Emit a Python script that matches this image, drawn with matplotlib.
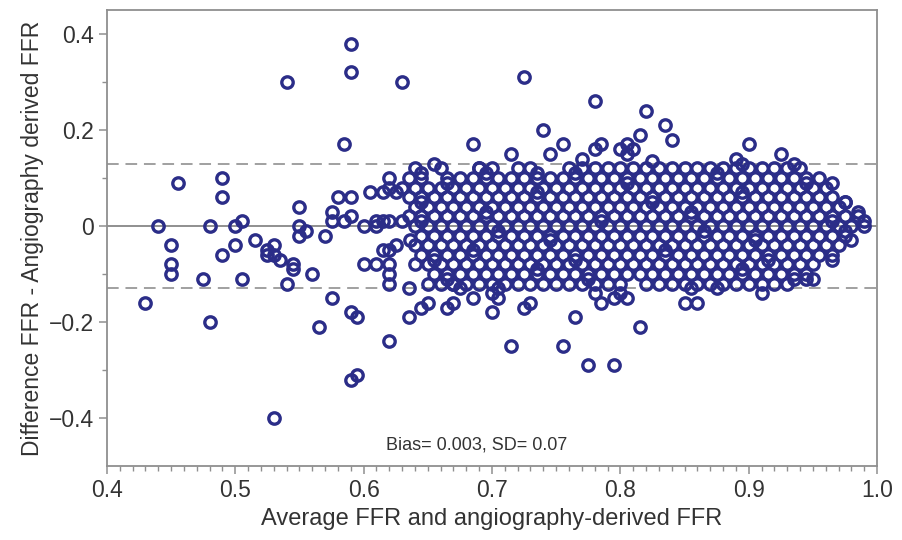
import matplotlib
matplotlib.use('Agg')
import matplotlib.pyplot as plt
from matplotlib.ticker import MultipleLocator, FixedLocator, FixedFormatter

plt.rcParams['font.family'] = ['Liberation Sans', 'DejaVu Sans']

# scattered points outside the dense band (average FFR, difference)
sparse_avg = [0.43, 0.44, 0.45, 0.45, 0.45, 0.455, 0.475, 0.48, 0.48, 0.49, 0.49, 0.49,
              0.50, 0.50, 0.505, 0.505, 0.515, 0.525, 0.525, 0.53, 0.53, 0.535, 0.53,
              0.54, 0.54, 0.545, 0.545, 0.55, 0.55, 0.55, 0.555,
              0.56, 0.565, 0.57, 0.575, 0.575, 0.575, 0.58, 0.585, 0.585, 0.59, 0.59,
              0.59, 0.59, 0.59, 0.595, 0.59, 0.595, 0.60, 0.60, 0.605, 0.61, 0.61,
              0.61, 0.615, 0.615, 0.615, 0.62, 0.62, 0.62, 0.62, 0.62, 0.62, 0.62,
              0.62, 0.625, 0.63, 0.63]
sparse_diff = [-0.16, 0.0, -0.04, -0.08, -0.10, 0.09, -0.11, 0.0, -0.20, 0.10, 0.06, -0.06,
               0.0, -0.04, 0.01, -0.11, -0.03, -0.05, -0.06, -0.04, -0.06, -0.07, -0.40,
               0.30, -0.12, -0.08, -0.09, 0.04, 0.0, -0.02, -0.01,
               -0.10, -0.21, -0.02, 0.03, 0.01, -0.15, 0.06, 0.01, 0.17, 0.38, 0.32,
               0.06, 0.02, -0.18, -0.19, -0.32, -0.31, 0.0, -0.08, 0.07, 0.01, 0.0,
               -0.08, 0.07, 0.01, -0.05, 0.10, 0.08, 0.01, -0.05, -0.08, -0.10, -0.12,
               -0.24, -0.04, 0.30, 0.01]

upper_avg = [0.64, 0.655, 0.685, 0.69, 0.695, 0.715, 0.725, 0.735, 0.74, 0.745, 0.755,
             0.77, 0.78, 0.78, 0.785, 0.80, 0.805, 0.805, 0.81, 0.815, 0.82, 0.825,
             0.835, 0.84, 0.84, 0.89, 0.895, 0.90, 0.925, 0.935, 0.94]
upper_diff = [0.12, 0.13, 0.17, 0.12, 0.11, 0.15, 0.31, 0.11, 0.20, 0.15, 0.17,
              0.14, 0.26, 0.16, 0.17, 0.16, 0.17, 0.15, 0.16, 0.19, 0.24, 0.135,
              0.21, 0.18, 0.12, 0.14, 0.13, 0.17, 0.15, 0.13, 0.12]

lower_avg = [0.635, 0.635, 0.645, 0.65, 0.65, 0.665, 0.67, 0.67, 0.675, 0.685, 0.70,
             0.70, 0.705, 0.705, 0.715, 0.725, 0.73, 0.74, 0.755, 0.765, 0.775, 0.78,
             0.785, 0.795, 0.795, 0.80, 0.805, 0.815, 0.84, 0.85, 0.855, 0.86, 0.875,
             0.91, 0.945]
lower_diff = [-0.13, -0.19, -0.17, -0.16, -0.12, -0.17, -0.16, -0.12, -0.13, -0.15, -0.14,
              -0.18, -0.15, -0.13, -0.25, -0.17, -0.16, -0.12, -0.25, -0.19, -0.29, -0.14,
              -0.16, -0.15, -0.29, -0.14, -0.15, -0.21, -0.12, -0.16, -0.13, -0.16, -0.13,
              -0.14, -0.11]

edge_avg = [0.955, 0.965, 0.975, 0.985, 0.99, 0.99, 0.98, 0.965, 0.95]
edge_diff = [0.10, 0.09, 0.05, 0.03, 0.01, 0.0, -0.03, -0.07, -0.11]

# dense band, one list of average FFR (x1000) per difference level
band_p12 = [660, 690, 700, 720, 730, 760, 770, 780, 790, 800, 810, 820, 830, 850, 860,
            870, 880, 890, 900, 910, 920, 930]
band_p11 = [645, 765, 875]
band_p10 = [635, 645, 665, 675, 685, 695, 705, 715, 725, 735, 745, 755, 765, 775, 785,
            795, 805, 815, 825, 835, 845, 855, 865, 875, 885, 895, 905, 915, 925, 935,
            945]
band_p09 = [665, 805, 945]
band_p08 = [630, 640, 650, 660, 670, 680, 690, 700, 710, 720, 730, 740, 750, 760, 770,
            780, 790, 800, 810, 820, 830, 840, 850, 860, 870, 880, 890, 900, 910, 920,
            930, 940, 950, 960]
band_p07 = [625, 735, 895]
band_p06 = [635, 645, 655, 665, 675, 685, 695, 705, 715, 725, 735, 745, 755, 765, 775,
            785, 795, 805, 815, 825, 835, 845, 855, 865, 875, 885, 895, 905, 915, 925,
            935, 945, 955, 965]
band_p05 = [645, 825, 975]
band_p04 = [640, 650, 660, 670, 680, 690, 700, 710, 720, 730, 740, 750, 760, 770, 780,
            790, 800, 810, 820, 830, 840, 850, 860, 870, 880, 890, 900, 910, 920, 930,
            940, 950, 960, 970]
band_p03 = [695, 855]
band_p02 = [635, 645, 655, 665, 675, 685, 695, 705, 715, 725, 735, 745, 755, 765, 775,
            785, 795, 805, 815, 825, 835, 845, 855, 865, 875, 885, 895, 905, 915, 925,
            935, 945, 955, 965, 975, 985]
band_p01 = [645, 785, 965]
band_0 = [640, 650, 660, 670, 680, 690, 700, 710, 720, 730, 740, 750, 760, 770, 780,
          790, 800, 810, 820, 830, 840, 850, 860, 870, 880, 890, 900, 910, 920, 930,
          940, 950, 960, 970, 980]
band_m01 = [705, 865, 975]
band_m02 = [645, 655, 665, 675, 685, 695, 705, 715, 725, 735, 745, 755, 765, 775, 785,
            795, 805, 815, 825, 835, 845, 855, 865, 875, 885, 895, 905, 915, 925, 935,
            945, 955, 965, 975]
band_m03 = [636, 745, 905]
band_m04 = [640, 650, 660, 670, 680, 690, 700, 710, 720, 730, 740, 750, 760, 770, 780,
            790, 800, 810, 820, 830, 840, 850, 860, 870, 880, 890, 900, 910, 920, 930,
            940, 950, 960, 970]
band_m05 = [685, 835]
band_m06 = [645, 655, 665, 675, 685, 695, 705, 715, 725, 735, 745, 755, 765, 775, 785,
            795, 805, 815, 825, 835, 845, 855, 865, 875, 885, 895, 905, 915, 925, 935,
            945, 955, 965]
band_m07 = [655, 765, 915]
band_m08 = [640, 650, 660, 670, 680, 690, 700, 710, 720, 730, 740, 750, 760, 770, 780,
            790, 800, 810, 820, 830, 840, 850, 860, 870, 880, 890, 900, 910, 920, 930,
            940, 950]
band_m09 = [735, 895]
band_m10 = [655, 665, 675, 685, 695, 705, 715, 725, 735, 745, 755, 765, 775, 785, 795,
            805, 815, 825, 835, 845, 855, 865, 875, 885, 895, 905, 915, 925, 935, 945]
band_m11 = [665, 775, 935]
band_m12 = [660, 670, 680, 690, 700, 710, 720, 730, 750, 760, 770, 780, 790, 800, 820,
            830, 850, 860, 870, 880, 890, 900, 910, 920, 930]

bands = [(0.12, band_p12), (0.11, band_p11), (0.10, band_p10), (0.09, band_p09),
         (0.08, band_p08), (0.07, band_p07), (0.06, band_p06), (0.05, band_p05),
         (0.04, band_p04), (0.03, band_p03), (0.02, band_p02), (0.01, band_p01),
         (0.0, band_0), (-0.01, band_m01), (-0.02, band_m02), (-0.03, band_m03),
         (-0.04, band_m04), (-0.05, band_m05), (-0.06, band_m06), (-0.07, band_m07),
         (-0.08, band_m08), (-0.09, band_m09), (-0.10, band_m10), (-0.11, band_m11),
         (-0.12, band_m12)]

bias = 0.003
sd = 0.07
loa = 0.13

avg = sparse_avg + upper_avg + lower_avg + edge_avg
diff = sparse_diff + upper_diff + lower_diff + edge_diff
for level, xs in bands:
    avg += [x / 1000 for x in xs]
    diff += [level] * len(xs)

navy = '#2b2d88'
grey = '#8f8f8f'

fig = plt.figure(figsize=(9.02, 5.4), dpi=100)
ax = fig.add_axes([0.1186, 0.137, 0.8537, 0.8445])

ax.axhline(0, color=grey, lw=1.4, zorder=1)
ax.axhline(loa, color='#a0a0a0', lw=1.4, ls=(0, (6, 3.5)), zorder=1)
ax.axhline(-loa, color='#a0a0a0', lw=1.4, ls=(0, (6, 3.5)), zorder=1)

ax.plot(avg, diff, 'o', ms=8.2, mfc='none', mec=navy, mew=2.4, zorder=3)

ax.set_xlim(0.4, 1.0)
ax.set_ylim(-0.5, 0.45)

ax.xaxis.set_major_locator(FixedLocator([0.4, 0.5, 0.6, 0.7, 0.8, 0.9, 1.0]))
ax.xaxis.set_major_formatter(FixedFormatter(['0.4', '0.5', '0.6', '0.7', '0.8', '0.9', '1.0']))
ax.xaxis.set_minor_locator(MultipleLocator(0.01))
ax.yaxis.set_major_locator(FixedLocator([-0.4, -0.2, 0.0, 0.2, 0.4]))
ax.yaxis.set_major_formatter(FixedFormatter(['\u22120.4', '\u22120.2', '0', '0.2', '0.4']))
ax.yaxis.set_minor_locator(FixedLocator([-0.3, -0.1, 0.1, 0.3]))

ax.tick_params(which='major', direction='out', length=6, width=1.1, color=grey,
               labelsize=16.5, labelcolor='#333333')
ax.tick_params(which='minor', direction='out', length=3.5, width=1.0, color=grey)
for s in ax.spines.values():
    s.set_color(grey)
    s.set_linewidth(1.3)

ax.set_xlabel('Average FFR and angiography-derived FFR', fontsize=17, color='#333333',
              labelpad=4)
ax.set_ylabel('Difference FFR - Angiography derived FFR', fontsize=16.5, color='#333333',
              labelpad=3)

ax.text(0.688, -0.457, 'Bias= %.3f, SD= %.2f' % (bias, sd), fontsize=13, color='#333333',
        ha='center', va='center')

fig.savefig('out.png', dpi=100)
